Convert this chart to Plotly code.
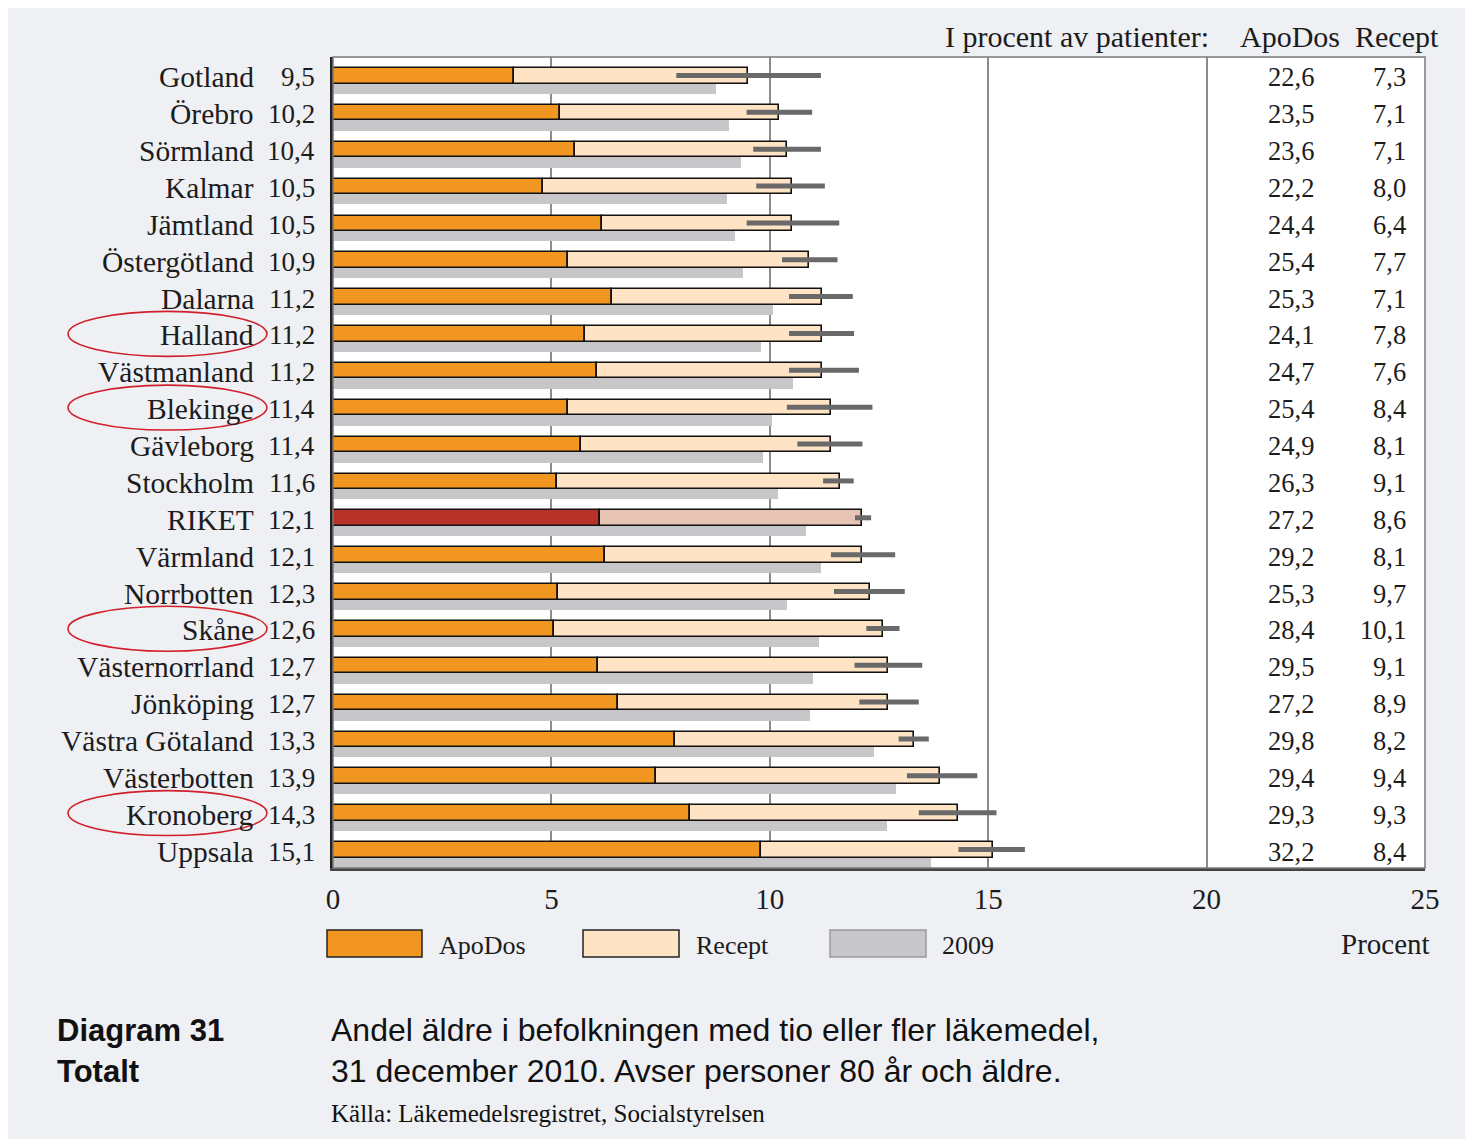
import plotly.graph_objects as go

# ---------------- data ----------------
regions = ["Gotland", "Örebro", "Sörmland", "Kalmar", "Jämtland", "Östergötland",
           "Dalarna", "Halland", "Västmanland", "Blekinge", "Gävleborg", "Stockholm",
           "RIKET", "Värmland", "Norrbotten", "Skåne", "Västernorrland", "Jönköping",
           "Västra Götaland", "Västerbotten", "Kronoberg", "Uppsala"]
total_labels = ["9,5", "10,2", "10,4", "10,5", "10,5", "10,9", "11,2", "11,2", "11,2",
                "11,4", "11,4", "11,6", "12,1", "12,1", "12,3", "12,6", "12,7", "12,7",
                "13,3", "13,9", "14,3", "15,1"]
apodos_bar = [4.15, 5.20, 5.55, 4.80, 6.15, 5.38, 6.38, 5.76, 6.05, 5.39, 5.68, 5.12,
              6.12, 6.22, 5.15, 5.05, 6.07, 6.52, 7.82, 7.40, 8.17, 9.79]
recept_bar = [5.35, 5.00, 4.85, 5.70, 4.35, 5.52, 4.82, 5.44, 5.15, 6.01, 5.72, 6.48,
              5.98, 5.88, 7.15, 7.55, 6.63, 6.18, 5.48, 6.50, 6.13, 5.31]
y2009 = [8.76, 9.06, 9.33, 9.03, 9.20, 9.39, 10.08, 9.80, 10.52, 10.06, 9.84, 10.19,
         10.83, 11.18, 10.39, 11.13, 11.00, 10.92, 12.38, 12.88, 12.69, 13.70]
err_lo = [7.86, 9.47, 9.62, 9.69, 9.47, 10.28, 10.44, 10.44, 10.44, 10.39, 10.63, 11.22,
          11.95, 11.40, 11.47, 12.21, 11.94, 12.05, 12.95, 13.14, 13.41, 14.32]
err_hi = [11.17, 10.97, 11.17, 11.26, 11.59, 11.55, 11.90, 11.93, 12.04, 12.35, 12.12, 11.92,
          12.32, 12.87, 13.09, 12.97, 13.49, 13.41, 13.64, 14.75, 15.19, 15.84]
pct_apodos = ["22,6", "23,5", "23,6", "22,2", "24,4", "25,4", "25,3", "24,1", "24,7", "25,4",
              "24,9", "26,3", "27,2", "29,2", "25,3", "28,4", "29,5", "27,2", "29,8", "29,4",
              "29,3", "32,2"]
pct_recept = ["7,3", "7,1", "7,1", "8,0", "6,4", "7,7", "7,1", "7,8", "7,6", "8,4", "8,1",
              "9,1", "8,6", "8,1", "9,7", "10,1", "9,1", "8,9", "8,2", "9,4", "9,3", "8,4"]
circled = ["Halland", "Blekinge", "Skåne", "Kronoberg"]
x_ticks = [0, 5, 10, 15, 20, 25]

# ---------------- styling ----------------
OFF = 8                      # page body margin
W, H = 1465, 1131            # figure size
L, R, T, B = 333, 1425, 57, 868   # plot area in page pixels
SERIF = "Liberation Serif, DejaVu Serif, serif"
SANS = "Liberation Sans, Arial, sans-serif"
ORANGE, PEACH = "#F29622", "#FEE3C4"
RED, PINK = "#B8322A", "#E8C4B5"
GREY09 = "#C7C7C9"
ERRC = "#696969"
TXT = "#1c1c1c"
BG = "#EEF0F4"

def px(x):
    return (x - L) / (R - L)

def py(y):
    return (B - y) / (B - T)

idx = list(range(len(regions)))
is_riket = [r == "RIKET" for r in regions]

fig = go.Figure()

fig.add_trace(go.Bar(
    y=idx, x=y2009, orientation="h", offset=0.22, width=0.28,
    marker=dict(color=GREY09, line=dict(width=0)), name="2009", showlegend=False))
fig.add_trace(go.Bar(
    y=idx, x=apodos_bar, orientation="h", offset=-0.2, width=0.42,
    marker=dict(color=[RED if k else ORANGE for k in is_riket],
                line=dict(color="#111111", width=1.6)),
    name="ApoDos", showlegend=False))
fig.add_trace(go.Bar(
    y=idx, x=recept_bar, base=apodos_bar, orientation="h", offset=-0.2, width=0.42,
    marker=dict(color=[PINK if k else PEACH for k in is_riket],
                line=dict(color="#111111", width=1.6)),
    name="Recept", showlegend=False))

ex, ey = [], []
for i in idx:
    ex += [err_lo[i], err_hi[i], None]
    ey += [i, i, None]
fig.add_trace(go.Scatter(x=ex, y=ey, mode="lines",
                         line=dict(color=ERRC, width=5), showlegend=False,
                         hoverinfo="skip"))

annotations = []
for i in idx:
    annotations.append(dict(x=px(256), xref="paper", y=i, yref="y", text=regions[i],
                            xanchor="right", yanchor="middle", showarrow=False, yshift=-2,
                            font=dict(family=SERIF, size=29.5, color=TXT)))
    annotations.append(dict(x=px(317), xref="paper", y=i, yref="y", text=total_labels[i],
                            xanchor="right", yanchor="middle", showarrow=False, yshift=-2,
                            font=dict(family=SERIF, size=27, color=TXT)))
    annotations.append(dict(x=22.5, xref="x", y=i, yref="y", text=pct_apodos[i],
                            xanchor="right", yanchor="middle", showarrow=False, yshift=-2,
                            font=dict(family=SERIF, size=26.5, color=TXT)))
    annotations.append(dict(x=24.6, xref="x", y=i, yref="y", text=pct_recept[i],
                            xanchor="right", yanchor="middle", showarrow=False, yshift=-2,
                            font=dict(family=SERIF, size=26.5, color=TXT)))

# header
annotations += [
    dict(x=px(1211), xref="paper", y=py(36), yref="paper", text="I procent av patienter:",
         xanchor="right", yanchor="middle", showarrow=False,
         font=dict(family=SERIF, size=30, color=TXT)),
    dict(x=px(1290), xref="paper", y=py(36), yref="paper", text="ApoDos",
         xanchor="center", yanchor="middle", showarrow=False,
         font=dict(family=SERIF, size=30, color=TXT)),
    dict(x=px(1397), xref="paper", y=py(36), yref="paper", text="Recept",
         xanchor="center", yanchor="middle", showarrow=False,
         font=dict(family=SERIF, size=30, color=TXT)),
]

# legend texts
for txt, xx in [("ApoDos", 437), ("Recept", 694), ("2009", 940)]:
    annotations.append(dict(x=px(xx), xref="paper", y=py(945), yref="paper", text=txt,
                            xanchor="left", yanchor="middle", showarrow=False,
                            font=dict(family=SERIF, size=26, color=TXT)))
annotations.append(dict(x=px(1432), xref="paper", y=py(944), yref="paper", text="Procent",
                        xanchor="right", yanchor="middle", showarrow=False,
                        font=dict(family=SERIF, size=29, color=TXT)))

# caption
annotations += [
    dict(x=px(55), xref="paper", y=py(1030), yref="paper", text="<b>Diagram 31</b>",
         xanchor="left", yanchor="middle", showarrow=False,
         font=dict(family=SANS, size=31, color="#111111")),
    dict(x=px(55), xref="paper", y=py(1071), yref="paper", text="<b>Totalt</b>",
         xanchor="left", yanchor="middle", showarrow=False,
         font=dict(family=SANS, size=31, color="#111111")),
    dict(x=px(329), xref="paper", y=py(1030), yref="paper",
         text="Andel äldre i befolkningen med tio eller fler läkemedel,",
         xanchor="left", yanchor="middle", showarrow=False,
         font=dict(family=SANS, size=32, color="#111111")),
    dict(x=px(329), xref="paper", y=py(1071), yref="paper",
         text="31 december 2010. Avser personer 80 år och äldre.",
         xanchor="left", yanchor="middle", showarrow=False,
         font=dict(family=SANS, size=32, color="#111111")),
    dict(x=px(329), xref="paper", y=py(1113), yref="paper",
         text="Källa: Läkemedelsregistret, Socialstyrelsen",
         xanchor="left", yanchor="middle", showarrow=False,
         font=dict(family=SERIF, size=25, color="#111111")),
]

shapes = [
    # plot frame (top / right grey)
    dict(type="rect", xref="paper", yref="paper", x0=0, x1=1, y0=0, y1=1,
         line=dict(color="#7a7a7a", width=1.5), layer="above"),
    # legend swatches
    dict(type="rect", xref="paper", yref="paper", x0=px(327), x1=px(422), y0=py(957), y1=py(930),
         fillcolor=ORANGE, line=dict(color="#222222", width=1.5)),
    dict(type="rect", xref="paper", yref="paper", x0=px(583), x1=px(679), y0=py(957), y1=py(930),
         fillcolor=PEACH, line=dict(color="#222222", width=1.5)),
    dict(type="rect", xref="paper", yref="paper", x0=px(830), x1=px(926), y0=py(957), y1=py(930),
         fillcolor=GREY09, line=dict(color="#9a9a9a", width=1.5)),
]
for name in circled:
    i = regions.index(name)
    shapes.append(dict(type="circle", xref="paper", yref="y", x0=px(68), x1=px(267),
                       y0=i - 0.6, y1=i + 0.62, line=dict(color="#D1202B", width=1.6),
                       layer="above"))

fig.update_layout(
    width=W, height=H,
    margin=dict(l=L - OFF, r=(OFF + W) - R, t=T - OFF, b=(OFF + H) - B, autoexpand=False),
    paper_bgcolor=BG, plot_bgcolor="white",
    barmode="overlay", bargap=0,
    showlegend=False,
    annotations=annotations, shapes=shapes,
    xaxis=dict(range=[0, 25], tickvals=x_ticks, ticktext=[str(v) for v in x_ticks],
               showgrid=True, gridcolor="#8c8c8c", gridwidth=1.5, zeroline=False,
               showline=True, linecolor="#444444", linewidth=2.5, mirror=False,
               ticks="", ticklabelstandoff=3,
               tickfont=dict(family=SERIF, size=29, color=TXT), fixedrange=True),
    yaxis=dict(range=[len(regions) - 0.5, -0.5], showticklabels=False, showgrid=False,
               zeroline=False, showline=True, linecolor="#222222", linewidth=2.5,
               ticks="", fixedrange=True),
)

fig.write_html("out.html")
